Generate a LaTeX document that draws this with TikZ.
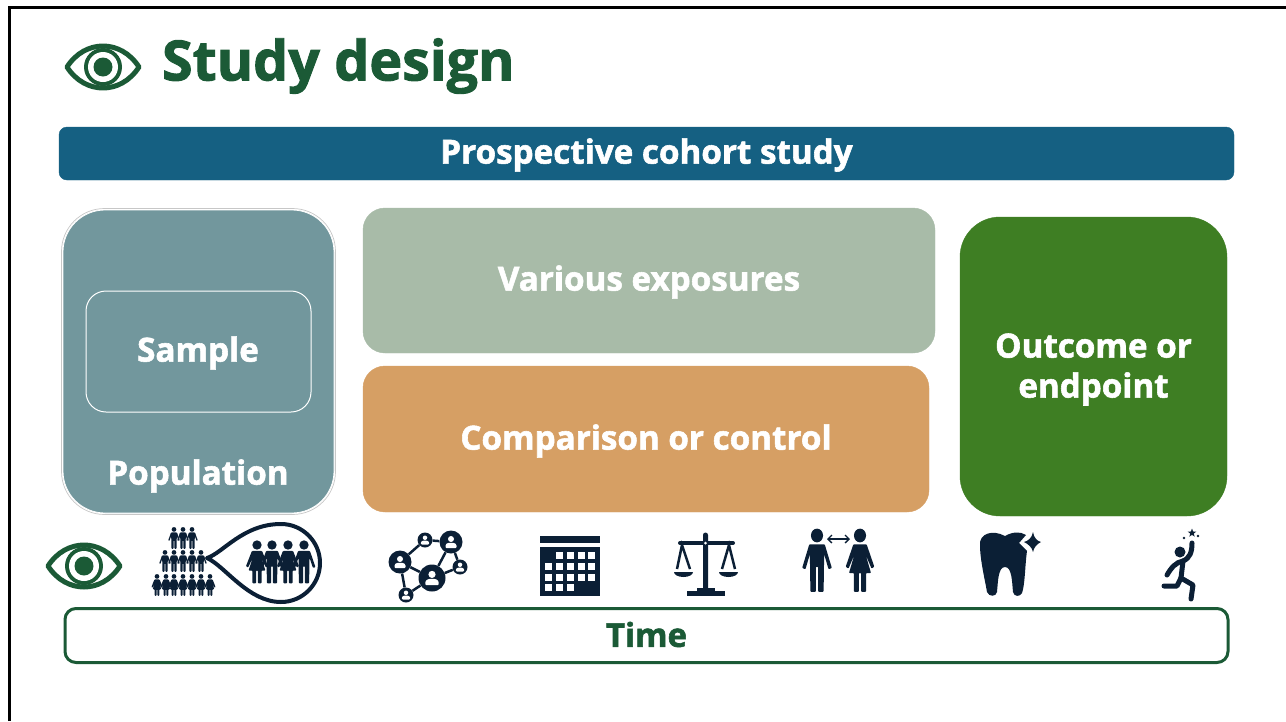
\documentclass[tikz,border=0pt]{standalone}
\usepackage{fontspec}
\setmainfont{Open Sans}[BoldFeatures={FakeBold=1.7}]
\usepackage{xcolor}
\usetikzlibrary{positioning,%
  arrows.meta,%
  shapes.geometric%
}
\definecolor{darkgreen}{HTML}{1B5A36}
\definecolor{bannerblue}{HTML}{156082}
\definecolor{popteal}{HTML}{72979D}
\definecolor{exposuregreen}{HTML}{A8BBA8}
\definecolor{compareorange}{HTML}{D69F64}
\definecolor{outcomegreen}{HTML}{3E7E23}
\definecolor{iconnavy}{HTML}{0B1F35}

\tikzset{
  box/.style n args={4}{draw=#2,fill=#1,minimum width=#3,minimum height=#4,
    inner sep=0pt,outer sep=0pt},
  boxlabel/.style={text=white,font=\bfseries\fontsize{33.2}{40}\selectfont,align=center},
  netbig/.style={circle,fill=iconnavy,minimum size=#1,inner sep=0pt},
  netlink/.style={iconnavy,line width=2.5pt},
  limb/.style={iconnavy,line width=5pt,line cap=round,line join=round},
  eyeicon/.pic={
    \draw[darkgreen,fill=white,line width=5pt,line join=round] (-36,0)
      .. controls (-18,-28) and (18,-28) .. (36,0)
      .. controls (18,28) and (-18,28) .. (-36,0) -- cycle;
    \fill[darkgreen] (0,0) circle (19);
    \fill[white] (0,0) circle (15);
    \fill[darkgreen] (0,0) circle (9.5);
  },
  manicon/.pic={
    \fill[iconnavy] (0,-20) circle (5.5);
    \fill[iconnavy,rounded corners=.8pt] (-7,-13) -- (7,-13) -- (13.5,6) -- (10.5,7)
      -- (6.5,-5) -- (6,25) -- (1,25) -- (1,5) -- (-1,5) -- (-1,25) -- (-6,25)
      -- (-6.5,-5) -- (-10.5,7) -- (-13.5,6) -- cycle;
  },
  womanicon/.pic={
    \fill[iconnavy] (0,-20) circle (5.5);
    \fill[iconnavy,rounded corners=.8pt] (-6,-13) -- (6,-13) -- (13,5) -- (10.5,6.5)
      -- (5,-5) -- (10,10) -- (5.5,10) -- (5.5,25) -- (1,25) -- (1,10) -- (-1,10)
      -- (-1,25) -- (-5.5,25) -- (-5.5,10) -- (-10,10) -- (-5,-5) -- (-10.5,6.5)
      -- (-13,5) -- cycle;
  },
  netuser/.pic={
    \fill[white] (0,-3) circle (3);
    \fill[white,rounded corners=1pt] (-5.5,6) -- (-5.5,2.5) -- (-3,.8) -- (3,.8)
      -- (5.5,2.5) -- (5.5,6) -- cycle;
  }
}

\begin{document}
\begin{tikzpicture}[x=1pt,y=-1pt]
    \useasboundingbox (0,0) rectangle (1286,721);
    \draw[black,line width=3pt] (9,721) -- (9,7) -- (1286,7);

    \pic (titleeye) at (103,67) {eyeicon};
    \node[anchor=west,text=darkgreen,font=\bfseries\fontsize{55.5}{60}\selectfont] (title) at (158.5,66) {Study design};

    \node[box={bannerblue}{bannerblue}{1175pt}{53pt},rounded corners=8pt] (banner) at (646.5,153.5) {};
    \node[boxlabel] (bannerlabel) at (646.5,155) {Prospective cohort study};

    \node[draw=black!22,line width=.7pt,minimum width=274pt,minimum height=306pt,inner sep=0pt,rounded corners=43pt] (populationedge) at (198.5,361.5) {};
    \node[box={popteal}{white},line width=.8pt,minimum width=271pt,minimum height=303pt,rounded corners=42pt] (population) at (198.5,361.5) {};
    \node[box={popteal}{white},line width=1pt,minimum width=225pt,minimum height=121pt,rounded corners=20pt] (sample) at (198.5,351.5) {};
    \node[boxlabel] (samplelabel) at (198,353) {Sample};
    \node[boxlabel] (populationlabel) at (198,476) {Population};

    \node[box={exposuregreen}{exposuregreen}{572pt}{145pt},rounded corners=22pt] (exposures) at (649,280.5) {};
    \node[boxlabel] (exposureslabel) at (649,282) {Various exposures};
    \node[box={compareorange}{compareorange}{566pt}{146pt},rounded corners=22pt] (comparison) at (646,439) {};
    \node[boxlabel] (comparisonlabel) at (646,441) {Comparison or control};
    \node[box={outcomegreen}{outcomegreen}{267pt}{299pt},rounded corners=40pt] (outcome) at (1093.5,366.5) {};
    \node[boxlabel] (outcomelabel) at (1093.5,369.5) {Outcome or\\endpoint};

    \node[box={white}{darkgreen},line width=3pt,minimum width=1163pt,minimum height=54pt,rounded corners=11pt] (timeline) at (646.5,635.5) {};
    \node[text=darkgreen,font=\bfseries\fontsize{33}{36}\selectfont] (timelabel) at (646.5,634.5) {Time};

    \pic (timeeye) at (84,566) {eyeicon};

    % crowd
    \foreach \x in {174,183,192}
        \pic[scale=.43] at (\x,538) {manicon};
    \foreach \x in {165,174,183,192,201}
        \pic[scale=.43] at (\x,561) {manicon};
    \foreach \x in {157,166,174,183,192,201,210}
        \pic[scale=.43] at (\x,585) {womanicon};
    \draw[iconnavy,line width=4pt,line join=round] (207,558)
        .. controls (223,553) and (243,524) .. (281,524)
        .. controls (302.5,524) and (320,541.5) .. (320,563)
        .. controls (320,584.5) and (302.5,602) .. (281,602)
        .. controls (248,602) and (225,566) .. (207,558) -- cycle;
    \pic[scale=.85] at (257,562) {womanicon};
    \pic[scale=.85] at (272,562) {manicon};
    \pic[scale=.85] at (288,562) {womanicon};
    \pic[scale=.85] at (304,562) {manicon};

    % network
    \node[netbig=23pt] (hubA) at (400,562) {};
    \node[netbig=23pt] (hubB) at (451,542) {};
    \node[netbig=27pt] (hubC) at (432,578) {};
    \node[netbig=15pt] (leafA) at (425,540) {};
    \node[netbig=15pt] (leafB) at (460,567) {};
    \node[netbig=15pt] (leafC) at (406,595) {};
    \foreach \a/\b in {hubA/leafA,leafA/hubB,hubB/leafB,leafB/hubC,hubC/leafC,leafC/hubA,hubA/hubC,hubB/hubC}
        \draw[netlink] (\a) -- (\b);
    \foreach \n in {hubA,hubB}
        \pic at (\n) {netuser};
    \pic[scale=1.2] at (hubC) {netuser};
    \foreach \n in {leafA,leafB,leafC}
        \pic[scale=.75] at (\n) {netuser};

    % calendar
    \fill[iconnavy] (540,536) rectangle (600,543);
    \fill[iconnavy] (540,547) rectangle (600,596);
    \foreach \x in {559,570,581,591}
        \fill[white] (\x-3.5,551.5) rectangle +(7,7);
    \foreach \x in {548,559,570,581,591} {
        \fill[white] (\x-3.5,562.5) rectangle +(7,7);
        \fill[white] (\x-3.5,573.5) rectangle +(7,7);
    }
    \foreach \x in {548,559,570}
        \fill[white] (\x-3.5,583.5) rectangle +(7,7);

    % scales
    \fill[iconnavy] (703,592) -- (703,535) arc[start angle=180,end angle=360,radius=2.5] -- (708,592) -- cycle;
    \draw[iconnavy,line width=4pt,line cap=round] (680,543) -- (733,543);
    \fill[white] (705.5,543) circle (1.5);
    \fill[iconnavy] (687,591) rectangle (725,596);
    \fill[iconnavy] (697,588) rectangle (715,592);
    \draw[iconnavy,line width=2.5pt] (677,569) -- (682,545) -- (690,569);
    \draw[iconnavy,line width=2.5pt] (722,569) -- (729,545) -- (735,569);
    \fill[iconnavy] (674,572) arc[start angle=180,end angle=360,x radius=9.5,y radius=-5] -- cycle;
    \fill[iconnavy] (719,572) arc[start angle=180,end angle=360,x radius=9.5,y radius=-5] -- cycle;

    % comparison of people
    \pic[xscale=1.1,yscale=1.25] (compareman) at (817,560.5) {manicon};
    \pic[xscale=1.1,yscale=1.25] (comparewoman) at (860,560.5) {womanicon};
    \coordinate (arrowleft) at (827,539);
    \coordinate (arrowright) at (850,539);
    \draw[{Straight Barb[length=4pt,width=8pt]}-{Straight Barb[length=4pt,width=8pt]},iconnavy,line width=1.3pt] (arrowleft) -- (arrowright);

    % tooth
    \fill[iconnavy] (980,545) .. controls (979,534) and (992,529) .. (1005,536)
        .. controls (1012,532) and (1020,531) .. (1026,535) -- (1019,543) -- (1027,551)
        .. controls (1025,565) and (1025,585) .. (1022,593)
        .. controls (1020,597) and (1014,597) .. (1013,592)
        .. controls (1012,582) and (1012,567) .. (1005,567)
        .. controls (998,567) and (998,582) .. (997,592)
        .. controls (996,597) and (989,597) .. (987,592)
        .. controls (985,580) and (980,560) .. (980,545) -- cycle;
    \fill[iconnavy] (1033,532) .. controls (1034,538) and (1037,541) .. (1041,542)
        .. controls (1037,544) and (1034,547) .. (1033,552)
        .. controls (1032,547) and (1028,544) .. (1024,542)
        .. controls (1028,541) and (1032,538) .. (1033,532) -- cycle;

    % jumper
    \fill[iconnavy] (1180,552) circle (5.5);
    \draw[limb] (1192,543) .. controls (1192,552) and (1190,558) .. (1183,561) -- (1181,578);
    \draw[limb] (1183,561) .. controls (1176,562) and (1171,568) .. (1167,575);
    \draw[limb] (1181,578) -- (1177,586) -- (1164,586);
    \draw[limb] (1181,578) -- (1193,585) -- (1191,599);
    \node[star,star points=5,star point ratio=2.4,fill=iconnavy,minimum size=9pt,inner sep=0pt] (jumpstar) at (1192,533) {};
    \fill[iconnavy] (1184,538) circle (1.3);
    \fill[iconnavy] (1198,536) circle (1.3);
\end{tikzpicture}
\end{document}
